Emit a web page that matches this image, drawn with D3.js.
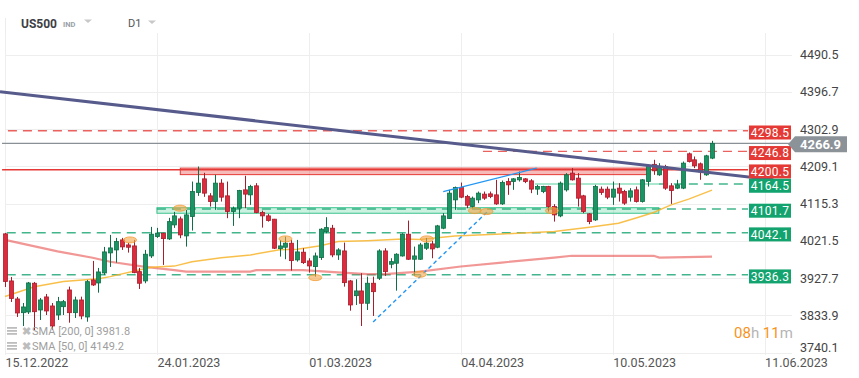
<!DOCTYPE html>
<html>
<head>
<meta charset="utf-8">
<script src="https://cdn.jsdelivr.net/npm/d3@7"></script>
<style>
  body { margin: 0; background: #fff; }
  svg { display: block; font-family: Roboto, "Noto Sans", sans-serif; }
</style>
</head>
<body>
<div id="chart"></div>
<script>
// ---- data ----
var dateLabels = ["15.12.2022", "24.01.2023", "01.03.2023", "04.04.2023", "10.05.2023", "11.06.2023"];
var dateBars = [0, 26, 52, 78, 104, 130];
var priceTicks = [3740.1, 3833.9, 3927.7, 4021.5, 4115.3, 4209.1, 4302.9, 4396.7, 4490.5];

var open = [4039.1,3920.7,3875.3,3840.8,3842.6,3914.9,3847.6,3880.4,3857.7,3835.0,3855.9,3898.0,3840.8,3872.8,3830.0,3923.2,3915.6,3940.8,3991.2,3998.7,
  4023.9,4011.3,4008.8,3944.1,3920.7,3983.6,4032.3,4040.8,4026.5,4061.7,4076.8,4034.0,4082.6,4143.1,4177.6,4134.8,4120.4,4166.8,4134.8,4095.2,
  4103.8,4149.9,4137.3,4160.0,4092.7,4084.4,4076.1,4002.0,4005.5,4015.6,3973.6,3993.0,3971.0,3956.7,3979.4,4044.8,4053.4,3986.2,3996.2,3920.7,
  3883.6,3895.5,3864.5,3914.9,3927.5,3996.2,3962.7,3965.2,3983.6,4038.3,3975.3,3975.3,4003.0,4013.9,4005.5,4053.4,4077.6,4124.7,4155.7,4133.0,
  4107.8,4124.7,4139.1,4139.8,4137.3,4114.6,4170.8,4170.8,4175.1,4177.6,4172.6,4151.7,4145.6,4158.2,4107.8,4084.4,4149.9,4192.0,4179.4,4134.8,
  4089.4,4074.3,4151.7,4151.7,4131.5,4154.2,4145.6,4131.5,4149.9,4120.4,4170.8,4214.1,4187.7,4208.6,4160.0,4154.2,4154.2,4240.6,4225.5,4215.4,
  4187.7,4229.7];
var high = [4041.6,3930.7,3880.4,3865.2,3918.1,3918.1,3877.8,3887.9,3865.2,3880.4,3872.8,3906.3,3881.1,3881.1,3923.2,3971.0,3953.4,4006.3,4036.5,4029.0,
  4029.0,4016.4,4023.9,3953.4,3998.7,4056.7,4054.2,4041.6,4079.4,4094.5,4082.6,4099.5,4170.8,4208.6,4192.7,4141.6,4187.7,4176.8,4170.8,4107.8,
  4149.9,4185.2,4162.5,4166.8,4097.7,4089.4,4076.8,4023.9,4032.3,4023.9,4023.9,4003.0,3977.8,3992.0,4053.4,4081.1,4061.7,4003.0,4017.1,3923.2,
  3924.9,3940.1,3931.5,3931.5,4000.5,4003.0,3977.8,3990.4,4040.8,4072.6,4007.1,4016.4,4029.0,4021.4,4061.7,4091.2,4149.9,4158.2,4168.3,4137.3,
  4133.0,4145.6,4145.6,4145.6,4175.1,4173.3,4179.4,4179.4,4196.0,4179.4,4176.8,4162.5,4160.0,4160.0,4113.9,4170.8,4192.0,4204.6,4192.0,4137.3,
  4091.2,4162.5,4158.2,4158.2,4170.8,4166.8,4149.9,4154.2,4158.2,4176.8,4212.9,4225.5,4217.1,4212.9,4166.8,4175.1,4221.2,4243.8,4233.8,4218.7,
  4238.1,4273.3];
var low = [3905.5,3867.8,3830.0,3807.3,3837.5,3797.2,3822.4,3835.0,3797.2,3822.4,3835.0,3815.6,3827.5,3824.2,3818.1,3908.1,3891.2,3935.8,3955.9,3966.8,
  3998.7,3992.0,3940.1,3900.5,3914.9,3978.6,4029.0,3961.0,4023.9,4054.2,4028.2,4007.1,4047.4,4134.8,4132.3,4107.8,4099.5,4120.4,4078.6,4059.2,
  4078.6,4103.8,4112.1,4091.2,4054.9,4070.0,4001.0,3981.9,3975.3,3946.6,3969.3,3963.5,3941.6,3931.5,3973.6,4040.8,3980.4,3973.6,3906.3,3845.8,
  3860.2,3807.3,3847.6,3832.5,3923.2,3933.3,3952.6,3896.2,3981.9,3973.6,3933.3,3973.6,3998.7,3977.8,4003.0,4050.9,4076.8,4099.5,4129.0,4103.8,
  4103.8,4116.4,4124.7,4129.0,4112.1,4112.1,4137.3,4149.9,4170.8,4166.8,4141.6,4137.3,4141.6,4095.2,4070.0,4081.1,4145.6,4173.3,4107.8,4091.2,
  4063.5,4071.8,4137.3,4126.5,4112.1,4120.4,4112.1,4120.4,4117.9,4117.9,4158.2,4187.7,4185.2,4149.9,4114.6,4151.7,4151.7,4218.7,4204.6,4175.1,
  4185.2,4227.2];
var close = [3919.4,3876.6,3840.1,3855.2,3915.6,3843.3,3872.8,3845.1,3807.3,3868.5,3868.5,3840.8,3872.8,3832.5,3918.9,3910.6,3943.3,3993.7,4003.8,4019.7,
  4006.3,4005.5,3941.6,3914.9,3987.9,4038.3,4040.8,4027.2,4070.0,4084.4,4036.5,4086.9,4145.6,4166.8,4141.6,4120.4,4166.8,4131.5,4095.2,4103.8,
  4148.1,4139.1,4158.2,4092.7,4084.4,4072.6,4003.0,4008.8,4015.6,3971.8,3993.7,3966.8,3958.4,3983.6,4050.9,4054.9,3986.2,3998.7,3916.4,3860.2,
  3895.5,3864.5,3914.9,3893.7,3996.2,3944.1,3969.3,3987.9,4038.3,3975.3,3983.6,4011.3,4015.6,4001.3,4059.2,4084.4,4141.6,4155.7,4131.5,4111.3,
  4129.0,4141.6,4129.0,4133.0,4114.6,4168.3,4162.5,4177.6,4180.9,4170.8,4151.7,4158.2,4158.2,4107.8,4086.9,4166.8,4187.7,4175.1,4129.0,4095.2,
  4070.0,4158.2,4143.1,4131.5,4151.7,4141.6,4116.4,4147.4,4120.4,4175.1,4208.6,4197.8,4208.6,4154.2,4148.1,4162.5,4217.1,4221.2,4210.3,4195.2,
  4235.5,4266.9];

// moving averages, read at these bars
var sma200Bars = [0, 9, 15, 18, 24, 29, 31, 42, 43, 51, 57, 62, 65, 71, 78, 85, 94, 97, 111, 112, 121];
var sma200Vals = [4024, 3995, 3979, 3969, 3956, 3948, 3944, 3944, 3948, 3948, 3942, 3938, 3938, 3944, 3957, 3967, 3979.5, 3984, 3984, 3979.5, 3981.8];
var sma50Bars = [0, 5, 10, 16, 18, 22, 25, 29, 32, 37, 42, 47, 50, 54, 57, 62, 68, 71, 77, 85, 94, 100, 105, 108, 111, 114, 117, 121];
var sma50Vals = [3881.6, 3906, 3919, 3926, 3931.5, 3945, 3955, 3958, 3969, 3979, 3986, 3999, 4000.5, 4009, 4020, 4022, 4026, 4025, 4034, 4039, 4045, 4056, 4066, 4079, 4093, 4112, 4126.5, 4149.2];

// horizontal levels and where each starts (bar)
var levelPrices = [4298.5, 4246.8, 4200.5, 4164.5, 4101.7, 4042.1, 3936.3];
var levelStart = [0.5, 81.8, -0.5, 111.9, 26, 0.3, 0.3];
var levelRed = [true, true, true, false, false, false, false];
var levelDashed = [true, true, false, true, true, true, true];
var lastPrice = 4266.9;

// zones [startBar, endBar, top, bottom]
var zoneBars = [[30, 110.4], [26, 111.9]];
var zonePrices = [[4204.6, 4188.2], [4105.0, 4091.0]];

// trend lines [[bar, price], [bar, price]]
var trendDark = [[-0.86, 4396.8], [131.5, 4175.3]];
var trendBlue = [[75, 4145.6], [91, 4204.6]];
var trendBlueDash = [[63, 3817.4], [82.7, 4097]];

// orange markers
var markBars = [21.4, 29.95, 48, 53.1, 71, 72.2, 80.4, 82.4, 93.6];
var markPrices = [4023.9, 4103.8, 4026.5, 3929.0, 3937.5, 4026.5, 4097.7, 4095.2, 4097.7];

var legendNames = ["SMA [200,  0]", "SMA [50,  0]"];
var legendVals = ["3981.8", "4149.2"];

// ---- drawing ----
var W = 859, H = 378;
var svg = d3.select("#chart").append("svg").attr("width", W).attr("height", H);

var x = d3.scaleLinear().domain([0, 130]).range([5, 764.6]);
var y = d3.scaleLinear().domain([3740.1, 4490.5]).range([352.7, 54.5]);
var plotRight = 792, plotTop = 33, plotBottom = 355, labelX = 748;

var GREEN = "#1a9463", GREEN_D = "#0f6e46", RED = "#dc2b3c", RED_D = "#a81c2b";
var LRED = "#e53935", LGREEN = "#13a36f";

// header
svg.append("text").attr("x", 21).attr("y", 27.5).attr("font-size", 12).attr("font-weight", 700)
  .attr("fill", "#3c4043").text("US500");
svg.append("text").attr("x", 63).attr("y", 26.5).attr("font-size", 7.5).attr("font-weight", 700)
  .attr("fill", "#9aa0a6").text("IND");
svg.append("text").attr("x", 128).attr("y", 27).attr("font-size", 11).attr("fill", "#555").text("D1");
[[84, 19.5], [148, 20.5]].forEach(function(p) {
  svg.append("path").attr("d", "M" + p[0] + "," + p[1] + "h8l-4,3.5z").attr("fill", "#c8c8c8");
});

// grid
svg.append("line").attr("x1", 5.5).attr("x2", 5.5).attr("y1", 18).attr("y2", plotBottom)
  .attr("stroke", "#ececec");
svg.append("g").selectAll("line").data(priceTicks).enter().append("line")
  .attr("x1", 5).attr("x2", plotRight)
  .attr("y1", function(d) { return Math.round(y(d)) + 0.5; })
  .attr("y2", function(d) { return Math.round(y(d)) + 0.5; })
  .attr("stroke", "#eeeeee");
svg.append("g").selectAll("line").data(dateBars).enter().append("line")
  .attr("x1", function(d) { return Math.round(x(d)) + 0.5; })
  .attr("x2", function(d) { return Math.round(x(d)) + 0.5; })
  .attr("y1", plotTop).attr("y2", plotBottom)
  .attr("stroke", "#eeeeee");

// zones
svg.append("g").selectAll("rect").data(zoneBars).enter().append("rect")
  .attr("x", function(d) { return x(d[0]); })
  .attr("width", function(d) { return x(d[1]) - x(d[0]); })
  .attr("y", function(d, i) { return y(zonePrices[i][0]); })
  .attr("height", function(d, i) { return y(zonePrices[i][1]) - y(zonePrices[i][0]); })
  .attr("fill", function(d, i) { return i == 0 ? "rgba(229,57,53,0.35)" : "rgba(19,190,120,0.22)"; })
  .attr("stroke", function(d, i) { return i == 0 ? LRED : "#3cc48e"; })
  .attr("stroke-width", 1);

// levels
svg.append("g").selectAll("line").data(levelPrices).enter().append("line")
  .attr("x1", function(d, i) { return Math.max(2, x(levelStart[i])); })
  .attr("x2", labelX)
  .attr("y1", function(d) { return y(d); })
  .attr("y2", function(d) { return y(d); })
  .attr("stroke", function(d, i) { return levelRed[i] ? LRED : LGREEN; })
  .attr("stroke-width", function(d, i) { return levelDashed[i] ? 1.4 : 1.3; })
  .attr("stroke-opacity", function(d, i) { return levelDashed[i] ? 0.8 : 1; })
  .attr("stroke-dasharray", function(d, i) { return levelDashed[i] ? "9,6" : null; });
// light part of the 4164.5 level
svg.append("line").attr("x1", x(90.7)).attr("x2", x(levelStart[3]))
  .attr("y1", y(levelPrices[3])).attr("y2", y(levelPrices[3]))
  .attr("stroke", "#5fd0a2").attr("stroke-width", 1.6).attr("stroke-opacity", 0.7);
// current price line
svg.append("line").attr("x1", 2).attr("x2", 790)
  .attr("y1", y(lastPrice)).attr("y2", y(lastPrice))
  .attr("stroke", "#8a9196").attr("stroke-width", 1.4);

// moving averages
var line = d3.line().x(function(d) { return x(d[0]); }).y(function(d) { return y(d[1]); });
svg.append("path").datum(d3.zip(sma200Bars, sma200Vals)).attr("d", line)
  .attr("fill", "none").attr("stroke", "#e8524f").attr("stroke-opacity", 0.6).attr("stroke-width", 2.2);
svg.append("path").datum(d3.zip(sma50Bars, sma50Vals)).attr("d", line)
  .attr("fill", "none").attr("stroke", "#f7b52c").attr("stroke-opacity", 0.85).attr("stroke-width", 1.5);

// candles
var bars = d3.range(open.length);
var cg = svg.append("g");
cg.selectAll("line").data(bars).enter().append("line")
  .attr("x1", function(i) { return Math.round(x(i)) + 0.5; })
  .attr("x2", function(i) { return Math.round(x(i)) + 0.5; })
  .attr("y1", function(i) { return y(high[i]); })
  .attr("y2", function(i) { return y(low[i]); })
  .attr("stroke", function(i) { return close[i] >= open[i] ? GREEN_D : RED_D; });
cg.selectAll("rect").data(bars).enter().append("rect")
  .attr("x", function(i) { return Math.round(x(i)) - 1.5; })
  .attr("width", 4)
  .attr("y", function(i) { return y(Math.max(open[i], close[i])); })
  .attr("height", function(i) { return Math.max(1, Math.abs(y(open[i]) - y(close[i]))); })
  .attr("fill", function(i) { return close[i] >= open[i] ? GREEN : RED; })
  .attr("stroke", function(i) { return close[i] >= open[i] ? GREEN_D : RED_D; })
  .attr("stroke-width", 0.8);

// trend lines
svg.append("path").datum(trendDark).attr("d", line).attr("fill", "none")
  .attr("stroke", "#575b8c").attr("stroke-width", 3);
svg.append("path").datum(trendBlue).attr("d", line).attr("fill", "none")
  .attr("stroke", "#2196f3").attr("stroke-width", 1.3);
svg.append("path").datum(trendBlueDash).attr("d", line).attr("fill", "none")
  .attr("stroke", "#2196f3").attr("stroke-width", 1.4).attr("stroke-dasharray", "4,3");

// markers
svg.append("g").selectAll("ellipse").data(markBars).enter().append("ellipse")
  .attr("cx", function(d) { return x(d); })
  .attr("cy", function(d, i) { return y(markPrices[i]); })
  .attr("rx", 6.5).attr("ry", 3)
  .attr("fill", "#f5a54a").attr("fill-opacity", 0.6)
  .attr("stroke", "#f39c33").attr("stroke-opacity", 0.8);

// level labels
var lg = svg.append("g").selectAll("g").data(levelPrices).enter().append("g")
  .attr("transform", function(d) { return "translate(" + (labelX + 1) + "," + (y(d) + 1.7) + ")"; });
lg.append("rect").attr("x", 0).attr("y", -7).attr("width", 42).attr("height", 14)
  .attr("fill", function(d, i) { return levelRed[i] ? LRED : LGREEN; });
lg.append("text").attr("x", 21).attr("y", 4.3).attr("text-anchor", "middle")
  .attr("font-size", 12).attr("fill", "#fff").attr("letter-spacing", 0.3)
  .text(function(d) { return d.toFixed(1); });

// y axis
var ya = svg.append("g").attr("transform", "translate(800,0)")
  .call(d3.axisRight(y).tickValues(priceTicks).tickSize(0).tickPadding(0)
    .tickFormat(function(d) { return d.toFixed(1); }));
ya.select(".domain").remove();
ya.selectAll("text").attr("font-size", 12.5).attr("fill", "#444").attr("font-family", "Roboto, sans-serif");
ya.selectAll(".tick").filter(function(d) { return d == priceTicks[0]; })
  .attr("transform", "translate(0," + (y(priceTicks[0]) - 5) + ")");

// current price tag
var ty = y(lastPrice) + 1;
svg.append("path")
  .attr("d", "M788," + ty + "L795," + (ty - 8) + "H847V" + (ty + 8) + "H795Z")
  .attr("fill", "#8b9399");
svg.append("text").attr("x", 800).attr("y", ty + 4.6).attr("font-size", 13).attr("font-weight", 700)
  .attr("fill", "#fff").text(lastPrice.toFixed(1));

// x axis
var xa = svg.append("g").attr("transform", "translate(0," + plotBottom + ")")
  .call(d3.axisBottom(x).tickValues(dateBars).tickSize(0).tickPadding(0)
    .tickFormat(function(d, i) { return dateLabels[i]; }));
xa.select(".domain").remove();
xa.selectAll("text").attr("text-anchor", "start").attr("dy", 0).attr("y", 11.5)
  .attr("font-size", 12.5).attr("fill", "#555").attr("font-family", "Roboto, sans-serif");

// countdown
var cd = svg.append("text").attr("x", 734).attr("y", 338).attr("font-size", 15);
cd.append("tspan").attr("fill", "#f7931e").text("08");
cd.append("tspan").attr("fill", "#b5b5b5").text("h ");
cd.append("tspan").attr("fill", "#f7931e").text("11");
cd.append("tspan").attr("fill", "#b5b5b5").text("m");

// legend
legendNames.forEach(function(n, i) {
  var ly = 331 + i * 15;
  var g = svg.append("g").attr("transform", "translate(7," + ly + ")");
  [-4, -1, 2].forEach(function(o) {
    g.append("rect").attr("x", 0).attr("y", o).attr("width", 10).attr("height", 1.8).attr("fill", "#bdbdbd");
  });
  g.append("text").attr("x", 15).attr("y", 4).attr("font-size", 11).attr("font-weight", 700)
    .attr("fill", "#bdbdbd").text("\u2716");
  g.append("text").attr("x", 25).attr("y", 4).attr("font-size", 11).attr("fill", "#9e9e9e")
    .text(n + " " + legendVals[i]);
});
</script>
</body>
</html>
